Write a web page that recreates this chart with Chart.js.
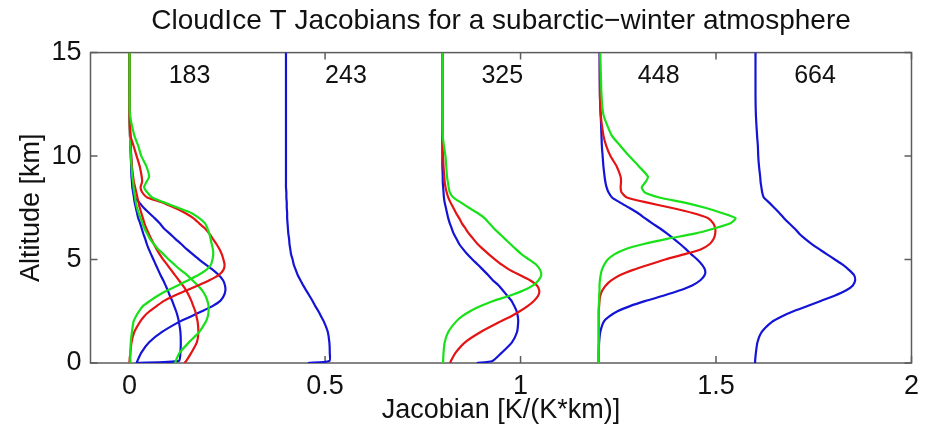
<!DOCTYPE html>
<html>
<head>
<meta charset="utf-8">
<script src="https://cdn.jsdelivr.net/npm/chart.js@4.4.1/dist/chart.umd.min.js"></script>
<style>
  html, body { margin: 0; padding: 0; background: #fff; }
</style>
</head>
<body>
<canvas id="jac" width="926" height="435"></canvas>
<script>
// altitude levels shared by every profile [km]
const ALT = [15, 13, 12, 11, 10.5, 10, 9.5, 9, 8.75, 8.5, 8.25, 8, 7.75, 7.5, 7.25, 7,
  6.75, 6.5, 6.25, 6, 5.75, 5.5, 5.25, 5, 4.75, 4.5, 4.25, 4, 3.75, 3.5, 3.25, 3,
  2.75, 2.5, 2.25, 2, 1.5, 1, 0.5, 0.1, 0];

// channel centre frequencies [GHz]; each column is shifted right by its offset
const CHANNELS = ['183', '243', '325', '448', '664'];
const OFFSETS = [0, 0.4, 0.8, 1.2, 1.6];
const X_TICKS = [0, 0.5, 1, 1.5, 2];
const Y_TICKS = [0, 5, 10, 15];

// Jacobians [K/(K*km)] at each ALT level
// 183 GHz, two sub-channels (A peaks higher, B lower)
const J183_GREEN_A = [0, 0, 0.001, 0.012, 0.022, 0.03, 0.043, 0.05, 0.043, 0.037, 0.045, 0.058, 0.09, 0.124, 0.158, 0.178, 0.193, 0.199, 0.204, 0.207, 0.21, 0.213, 0.214, 0.212, 0.208, 0.196, 0.176, 0.15, 0.123, 0.096, 0.072, 0.052, 0.034, 0.024, 0.016, 0.01, 0.006, 0.003, 0.002, 0.002, 0.002];
const J183_RED_A = [0, 0, 0, 0.002, 0.01, 0.018, 0.026, 0.031, 0.032, 0.028, 0.032, 0.045, 0.085, 0.115, 0.142, 0.163, 0.178, 0.193, 0.204, 0.213, 0.222, 0.23, 0.236, 0.24, 0.243, 0.24, 0.228, 0.204, 0.175, 0.145, 0.114, 0.088, 0.069, 0.051, 0.037, 0.027, 0.012, 0.005, 0.002, 0, 0];
const J183_BLUE_A = [0, 0, 0.001, 0.002, 0.003, 0.004, 0.005, 0.006, 0.007, 0.008, 0.01, 0.014, 0.025, 0.036, 0.05, 0.064, 0.077, 0.088, 0.103, 0.117, 0.132, 0.146, 0.162, 0.178, 0.195, 0.213, 0.228, 0.239, 0.244, 0.245, 0.241, 0.232, 0.212, 0.185, 0.157, 0.128, 0.083, 0.05, 0.03, 0.02, 0.018];
const J183_GREEN_B = [0, 0, 0, 0.001, 0.002, 0.003, 0.005, 0.007, 0.009, 0.01, 0.012, 0.014, 0.016, 0.019, 0.023, 0.028, 0.033, 0.038, 0.045, 0.052, 0.062, 0.073, 0.087, 0.1, 0.115, 0.13, 0.147, 0.161, 0.174, 0.186, 0.194, 0.199, 0.202, 0.202, 0.2, 0.195, 0.178, 0.152, 0.128, 0.118, 0.117];
const J183_RED_B = [0, 0, 0, 0.001, 0.002, 0.004, 0.006, 0.009, 0.011, 0.014, 0.017, 0.02, 0.023, 0.026, 0.03, 0.034, 0.038, 0.043, 0.049, 0.055, 0.062, 0.069, 0.077, 0.086, 0.096, 0.106, 0.116, 0.126, 0.136, 0.145, 0.152, 0.158, 0.163, 0.168, 0.171, 0.174, 0.176, 0.172, 0.158, 0.145, 0.14];
const J183_BLUE_B = [0, 0, 0, 0.001, 0.002, 0.003, 0.004, 0.005, 0.006, 0.007, 0.009, 0.011, 0.013, 0.016, 0.019, 0.022, 0.027, 0.031, 0.035, 0.04, 0.044, 0.049, 0.055, 0.061, 0.067, 0.073, 0.079, 0.086, 0.092, 0.098, 0.103, 0.109, 0.114, 0.119, 0.123, 0.126, 0.13, 0.131, 0.13, 0.126, 0.016];
// 243 GHz
const J243_BLUE = [0, 0, 0, 0, 0, 0, 0, 0, 0, 0, 0.001, 0.001, 0.002, 0.002, 0.003, 0.003, 0.004, 0.005, 0.006, 0.008, 0.009, 0.011, 0.013, 0.017, 0.02, 0.025, 0.03, 0.037, 0.044, 0.052, 0.06, 0.068, 0.075, 0.083, 0.09, 0.097, 0.107, 0.111, 0.112, 0.111, 0.056];
// 325 GHz
const J325_GREEN = [0, 0, 0, 0.001, 0.004, 0.008, 0.01, 0.012, 0.014, 0.016, 0.019, 0.028, 0.048, 0.068, 0.09, 0.108, 0.12, 0.132, 0.146, 0.16, 0.174, 0.188, 0.203, 0.222, 0.24, 0.25, 0.253, 0.246, 0.232, 0.207, 0.172, 0.13, 0.098, 0.071, 0.05, 0.035, 0.015, 0.006, 0.003, 0.002, 0.002];
const J325_RED = [0, 0, 0, 0, 0.001, 0.002, 0.003, 0.005, 0.006, 0.008, 0.011, 0.015, 0.021, 0.028, 0.035, 0.043, 0.05, 0.059, 0.068, 0.079, 0.09, 0.104, 0.119, 0.135, 0.152, 0.172, 0.198, 0.224, 0.242, 0.248, 0.245, 0.234, 0.218, 0.198, 0.175, 0.148, 0.098, 0.058, 0.034, 0.022, 0.02];
const J325_BLUE = [0, 0, 0, 0, 0, 0, 0, 0.001, 0.001, 0.002, 0.003, 0.004, 0.006, 0.009, 0.012, 0.015, 0.019, 0.024, 0.029, 0.036, 0.043, 0.053, 0.064, 0.077, 0.091, 0.104, 0.117, 0.129, 0.144, 0.155, 0.166, 0.177, 0.184, 0.19, 0.193, 0.194, 0.191, 0.178, 0.152, 0.128, 0.088];
// 448 GHz
const J448_GREEN = [0.004, 0.007, 0.012, 0.033, 0.055, 0.078, 0.103, 0.126, 0.12, 0.11, 0.117, 0.155, 0.22, 0.272, 0.315, 0.35, 0.337, 0.295, 0.245, 0.175, 0.115, 0.068, 0.04, 0.023, 0.014, 0.008, 0.005, 0.003, 0.002, 0.002, 0.001, 0.001, 0, 0, 0, 0, 0, 0, 0, 0, 0];
const J448_RED = [0.003, 0.003, 0.005, 0.012, 0.019, 0.03, 0.046, 0.056, 0.057, 0.056, 0.058, 0.072, 0.125, 0.185, 0.24, 0.28, 0.293, 0.298, 0.298, 0.294, 0.284, 0.262, 0.218, 0.17, 0.128, 0.088, 0.055, 0.033, 0.018, 0.009, 0.004, 0.002, 0.001, 0, 0, 0, 0, 0, 0, 0, 0];
const J448_BLUE = [0.002, 0.003, 0.005, 0.007, 0.008, 0.01, 0.012, 0.015, 0.017, 0.02, 0.025, 0.034, 0.055, 0.078, 0.1, 0.118, 0.137, 0.157, 0.175, 0.192, 0.208, 0.223, 0.237, 0.252, 0.264, 0.272, 0.271, 0.26, 0.239, 0.206, 0.165, 0.12, 0.08, 0.048, 0.027, 0.013, 0.004, 0.001, 0, 0, 0];
// 664 GHz
const J664_BLUE = [0.001, 0.001, 0.002, 0.005, 0.007, 0.008, 0.01, 0.013, 0.014, 0.016, 0.018, 0.022, 0.036, 0.049, 0.062, 0.074, 0.087, 0.101, 0.113, 0.128, 0.145, 0.164, 0.184, 0.204, 0.224, 0.24, 0.253, 0.256, 0.25, 0.232, 0.203, 0.168, 0.134, 0.098, 0.068, 0.044, 0.017, 0.006, 0.002, 0, 0];

const COLORS = { green: 'rgb(25,225,25)', red: 'rgb(228,20,20)', blue: 'rgb(20,20,215)' };
const FONT = '"Liberation Sans", Arial, Helvetica, sans-serif';
const TICK_LEN = 7;
const LABEL_DX = 0.1;    // channel label sits this far right of its column
const LABEL_ALT = 13.85; // and at this altitude

// [channel index, colour, values]
const PROFILES = [
  [0, 'green', J183_GREEN_A], [0, 'red', J183_RED_A],
  [0, 'green', J183_GREEN_B], [0, 'red', J183_RED_B],
  [0, 'blue', J183_BLUE_A], [0, 'blue', J183_BLUE_B],
  [1, 'blue', J243_BLUE],
  [2, 'green', J325_GREEN], [2, 'red', J325_RED], [2, 'blue', J325_BLUE],
  [3, 'green', J448_GREEN], [3, 'red', J448_RED], [3, 'blue', J448_BLUE],
  [4, 'blue', J664_BLUE]
];

const datasets = PROFILES.map(([ch, col, vals]) => ({
  data: ALT.map((a, k) => ({ x: OFFSETS[ch] + vals[k], y: a })),
  showLine: true,
  borderColor: COLORS[col],
  backgroundColor: COLORS[col],
  borderWidth: 2.2,
  pointRadius: 0,
  tension: 0.2
}));

// box round the plot with inward ticks on all four sides, plus channel names
const framePlugin = {
  id: 'frame',
  beforeDatasetsDraw(chart) {
    const { ctx, chartArea: a, scales: { x, y } } = chart;
    ctx.save();
    ctx.strokeStyle = '#5c5c5c';
    ctx.lineWidth = 1.5;
    ctx.strokeRect(a.left, a.top, a.right - a.left, a.bottom - a.top);
    ctx.beginPath();
    for (const v of X_TICKS) {
      const px = x.getPixelForValue(v);
      ctx.moveTo(px, a.bottom); ctx.lineTo(px, a.bottom - TICK_LEN);
      ctx.moveTo(px, a.top); ctx.lineTo(px, a.top + TICK_LEN);
    }
    for (const v of Y_TICKS) {
      const py = y.getPixelForValue(v);
      ctx.moveTo(a.left, py); ctx.lineTo(a.left + TICK_LEN, py);
      ctx.moveTo(a.right, py); ctx.lineTo(a.right - TICK_LEN, py);
    }
    ctx.stroke();
    ctx.fillStyle = '#111';
    ctx.font = '25px ' + FONT;
    ctx.textAlign = 'left';
    ctx.textBaseline = 'middle';
    CHANNELS.forEach((name, i) => {
      ctx.fillText(name, x.getPixelForValue(OFFSETS[i] + LABEL_DX), y.getPixelForValue(LABEL_ALT));
    });
    ctx.restore();
  }
};

const tickFont = { family: FONT, size: 27 };

new Chart(document.getElementById('jac'), {
  type: 'scatter',
  data: { datasets },
  options: {
    responsive: false,
    animation: false,
    layout: { padding: { left: 0, right: 9, top: 0, bottom: 0 } },
    plugins: {
      legend: { display: false },
      tooltip: { enabled: false },
      title: {
        display: true,
        fullSize: false,
        text: 'CloudIce T Jacobians for a subarctic\u2212winter atmosphere',
        color: '#111',
        font: { family: FONT, size: 28, weight: 'normal' },
        padding: { top: 4, bottom: 15 }
      }
    },
    scales: {
      x: {
        type: 'linear',
        min: -0.1,
        max: 2,
        afterBuildTicks: s => { s.ticks = X_TICKS.map(v => ({ value: v })); },
        afterFit: s => { s.height = 72; },
        grid: { display: false, drawTicks: false },
        border: { display: false },
        ticks: { font: tickFont, color: '#111', padding: 7, maxRotation: 0, autoSkip: false, callback: v => String(v) },
        title: { display: true, text: 'Jacobian [K/(K*km)]', color: '#111', font: tickFont, padding: { top: 0, bottom: 8 } }
      },
      y: {
        type: 'linear',
        min: 0,
        max: 15,
        afterBuildTicks: s => { s.ticks = Y_TICKS.map(v => ({ value: v })); },
        afterFit: s => { s.width = 90.5; },
        grid: { display: false, drawTicks: false },
        border: { display: false },
        ticks: { font: tickFont, color: '#111', padding: 9, callback: v => String(v) },
        title: { display: true, text: 'Altitude [km]', color: '#111', font: tickFont, padding: { top: 15, bottom: 0 } }
      }
    }
  },
  plugins: [framePlugin]
});
</script>
</body>
</html>
